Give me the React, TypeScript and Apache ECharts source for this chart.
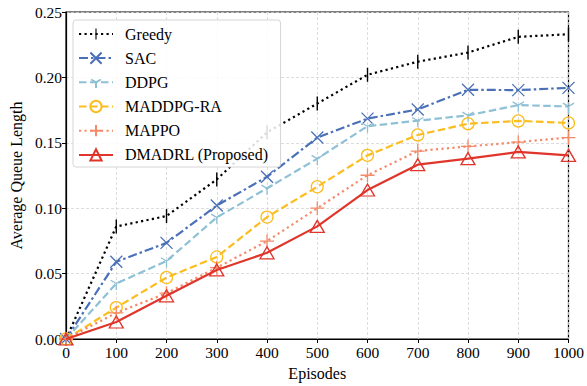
import React, { useEffect, useRef } from "react";
import * as echarts from "echarts";

const episodes = [0, 100, 200, 300, 400, 500, 600, 700, 800, 900, 1000];
const greedy = [0, 0.086, 0.094, 0.122, 0.158, 0.180, 0.202, 0.212, 0.219, 0.231, 0.233];
const sac = [0, 0.059, 0.0735, 0.102, 0.124, 0.154, 0.1685, 0.1755, 0.1905, 0.1903, 0.192];
const ddpg = [0, 0.0424, 0.0596, 0.093, 0.1152, 0.1379, 0.1627, 0.1669, 0.171, 0.1788, 0.1778];
const maddpg = [0, 0.024, 0.047, 0.0627, 0.0932, 0.1164, 0.1404, 0.156, 0.1646, 0.1667, 0.1652];
const mappo = [0, 0.02, 0.035, 0.0545, 0.0748, 0.1, 0.1252, 0.1437, 0.1472, 0.1505, 0.154];
const dmadrl = [0, 0.013, 0.033, 0.0528, 0.0659, 0.0861, 0.1139, 0.1333, 0.1379, 0.143, 0.1404];
const yTicks = [0, 0.05, 0.1, 0.15, 0.2, 0.25];

const FONT = "Liberation Serif";

const pairs = (ys: number[]) => episodes.map((x, i) => [x, ys[i]]);

export default function App() {
  const ref = useRef<HTMLDivElement>(null);
  useEffect(() => {
    if (!ref.current) return;
    const chart = echarts.init(ref.current, undefined, { renderer: "svg" });
    const mk = (
      name: string,
      data: number[],
      color: string,
      lineType: any,
      symbol: string,
      symbolSize: any,
      fill: string,
      z: number,
      borderWidth = 1.3
    ) => ({
      name,
      type: "line",
      data: pairs(data),
      color,
      symbol,
      symbolSize,
      symbolKeepAspect: true,
      showSymbol: true,
      z,
      lineStyle: { color, width: 2.2, type: lineType, cap: "butt" },
      itemStyle: { color: fill, borderColor: color, borderWidth },
      emphasis: { disabled: true },
    });
    chart.setOption({
      animation: false,
      textStyle: { fontFamily: FONT },
      grid: {
        left: 63,
        right: 17,
        top: 12,
        bottom: 44,
        show: true,
        borderColor: "#000",
        borderWidth: 1.2,
        backgroundColor: "transparent",
      },
      legend: {
        orient: "vertical",
        left: 73,
        top: 20,
        itemWidth: 34,
        itemHeight: 14,
        itemGap: 8,
        padding: [6, 12, 4, 5],
        borderColor: "#d5d5d5",
        borderWidth: 1,
        borderRadius: 3,
        backgroundColor: "rgba(255,255,255,0.85)",
        textStyle: {
          fontFamily: FONT,
          fontSize: 16,
          color: "#000",
          lineHeight: 16,
          padding: [0, 0, 0, 7],
        },
        data: ["Greedy", "SAC", "DDPG", "MADDPG-RA", "MAPPO", "DMADRL (Proposed)"],
      },
      xAxis: {
        type: "value",
        min: 0,
        max: 1000,
        interval: 100,
        name: "Episodes",
        nameLocation: "middle",
        nameGap: 26,
        nameTextStyle: { fontFamily: FONT, fontSize: 16, color: "#000" },
        axisLine: { show: true, onZero: false, lineStyle: { color: "#000", width: 1.2 } },
        axisTick: { show: true, inside: false, length: 4, lineStyle: { color: "#000" } },
        axisLabel: {
          fontFamily: FONT,
          fontSize: 15.5,
          color: "#000",
          margin: 5,
          formatter: (v: number) => String(v),
        },
        splitLine: { show: true, lineStyle: { color: "#d4d4d4", type: [3, 2], width: 0.8 } },
      },
      yAxis: {
        type: "value",
        min: 0,
        max: 0.25,
        interval: 0.05,
        name: "Average Queue Length",
        nameLocation: "middle",
        nameGap: 42,
        nameTextStyle: { fontFamily: FONT, fontSize: 16, color: "#000" },
        axisLine: { show: true, onZero: false, lineStyle: { color: "#000", width: 1.2 } },
        axisTick: { show: true, inside: false, length: 4, lineStyle: { color: "#000" } },
        axisLabel: {
          fontFamily: FONT,
          fontSize: 15.5,
          color: "#000",
          margin: 4,
          formatter: (v: number) => (yTicks.some((t) => Math.abs(t - v) < 1e-9) ? v.toFixed(2) : ""),
        },
        splitLine: { show: true, lineStyle: { color: "#d4d4d4", type: [3, 2], width: 0.8 } },
      },
      series: [
        mk(
          "Greedy",
          greedy,
          "#000000",
          [2.2, 3.3],
          "path://M0,0M10,10M4.5,0L5.5,0L5.5,10L4.5,10Z",
          14,
          "#000000",
          2,
          0
        ),
        mk("SAC", sac, "#4a70b8", [9, 3, 2.5, 3], "path://M0,0L10,10M10,0L0,10", 12, "none", 3),
        mk(
          "DDPG",
          ddpg,
          "#8ec0d6",
          [7.5, 3.5],
          "path://M0,0M10,10M5,5L5,10M5,5L0.67,2.5M5,5L9.33,2.5",
          13,
          "none",
          4
        ),
        mk("MADDPG-RA", maddpg, "#fbbd1f", [7.5, 3.5], "circle", 12, "none", 5),
        mk("MAPPO", mappo, "#f58a6a", [2.2, 3.3], "path://M5,0L5,10M0,5L10,5", 14, "none", 6),
        mk("DMADRL (Proposed)", dmadrl, "#e0352b", "solid", "triangle", [14, 12], "none", 7),
      ],
    });
    return () => chart.dispose();
  }, []);
  return (
    <div
      ref={ref}
      style={{ position: "absolute", left: 0, top: 0, width: 587, height: 386 }}
    />
  );
}
